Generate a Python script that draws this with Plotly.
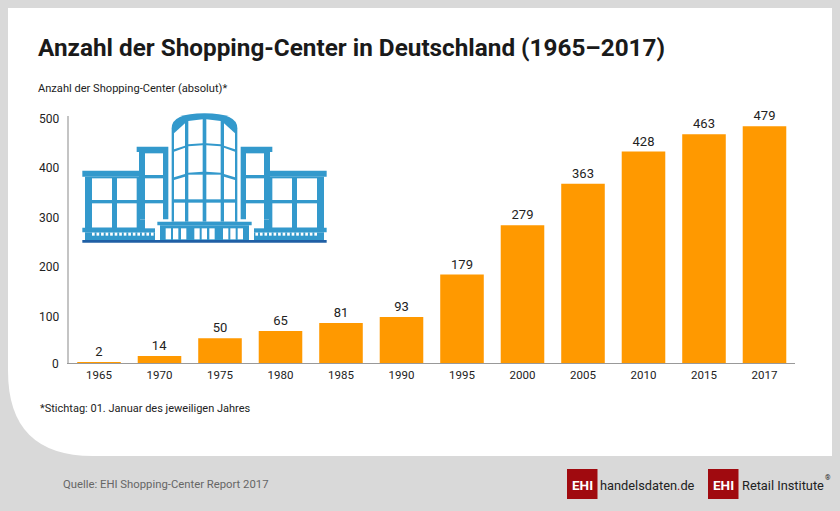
import plotly.graph_objects as go

jahre = ['1965', '1970', '1975', '1980', '1985', '1990', '1995', '2000', '2005', '2010', '2015', '2017']
anzahl = [2, 14, 50, 65, 81, 93, 179, 279, 363, 428, 463, 479]
y_ticks = [0, 100, 200, 300, 400, 500]

W, H = 840, 511
ORANGE = '#ff9900'
BLAU = '#3399cc'
DUNKELBLAU = '#1f5fa5'
ROT = '#a00a0f'
FONT = 'Roboto'


def px(x):
    return x / W


def py(y):
    return 1 - y / H


def text(x, y, s, size, color='#222222', anchor='left', bold=False):
    return dict(xref='paper', yref='paper', x=px(x), y=py(y), text=f'<b>{s}</b>' if bold else s,
                showarrow=False, xanchor=anchor, yanchor='middle',
                font=dict(family=FONT, size=size, color=color), borderpad=0, borderwidth=0)


shapes = []

# weisse Flaeche mit runder Ecke unten links
r = 85
panel = f'M {px(8)} {py(8)} L {px(832)} {py(8)} L {px(832)} {py(456)} L {px(8 + r)} {py(456)} ' \
        f'Q {px(8)} {py(456)} {px(8)} {py(456 - r)} Z'
shapes.append(dict(type='path', xref='paper', yref='paper', path=panel, fillcolor='white',
                   line_width=0, layer='below'))


# Gebaeude: Koordinaten aus dem 3x-Ausschnitt (Ursprung 70/100)
def ix(x):
    return px(70 + x / 3)


def iy(y):
    return py(100 + y / 3)


def rect(x0, y0, x1, y1, color=BLAU, spiegeln=True):
    shapes.append(dict(type='rect', xref='paper', yref='paper', x0=ix(x0), x1=ix(x1), y0=iy(y0), y1=iy(y1),
                       fillcolor=color, line_width=0))
    if spiegeln:
        shapes.append(dict(type='rect', xref='paper', yref='paper', x0=ix(807 - x1), x1=ix(807 - x0),
                           y0=iy(y0), y1=iy(y1), fillcolor=color, line_width=0))


def poly(punkte, color='white', spiegeln=True):
    for m in ([False, True] if spiegeln else [False]):
        pts = [(807 - x if m else x, y) for x, y in punkte]
        p = 'M ' + ' L '.join(f'{ix(x)} {iy(y)}' for x, y in pts) + ' Z'
        shapes.append(dict(type='path', xref='paper', yref='paper', path=p, fillcolor=color, line_width=0))


# Fluegel
rect(37, 212, 210, 230)
rect(45, 230, 210, 385)
for f in [(66, 235, 126, 300), (141, 235, 200, 300), (66, 310, 126, 383), (141, 310, 200, 383)]:
    rect(*f, color='white')
rect(37, 383, 255, 397)
rect(45, 397, 255, 420)
for i in range(14):
    rect(66 + i * 13.6, 398, 74 + i * 13.6, 407, color='white')

# Turm
rect(200, 140, 295, 156)
rect(207, 156, 295, 358)
rect(207, 358, 225, 385)
for f in [(225, 160, 279, 225), (225, 235, 279, 300), (225, 310, 279, 385)]:
    rect(*f, color='white')

# Rundbau
kuppel = f'M {ix(305)} {iy(365)} L {ix(305)} {iy(85)} Q {ix(305)} {iy(40)} {ix(403.5)} {iy(40)} ' \
         f'Q {ix(502)} {iy(40)} {ix(502)} {iy(85)} L {ix(502)} {iy(365)} Z'
shapes.append(dict(type='path', xref='paper', yref='paper', path=kuppel, fillcolor=BLAU, line_width=0))
poly([(312, 100), (345, 70), (345, 137), (312, 148)])
poly([(312, 155), (345, 143), (345, 222), (312, 232)])
poly([(312, 240), (345, 230), (345, 298), (312, 298)])
poly([(312, 308), (345, 308), (345, 365), (312, 365)])
poly([(355, 63), (398, 58), (398, 130), (355, 133)])
poly([(355, 139), (398, 136), (398, 215), (355, 218)])
poly([(355, 224), (398, 224), (398, 298), (355, 298)])
poly([(355, 308), (398, 308), (398, 365), (355, 365)])

# Eingang
rect(262, 365, 545, 376, spiegeln=False)
rect(270, 376, 537, 420, spiegeln=False)
for d in [287, 309, 333, 373, 395, 418, 459, 481, 503]:
    rect(d, 385, d + 16, 418, color='white', spiegeln=False)
rect(37, 420, 770, 428, color=DUNKELBLAU, spiegeln=False)

# Logos
for x0 in [567, 708]:
    shapes.append(dict(type='rect', xref='paper', yref='paper', x0=px(x0), x1=px(x0 + 30.5), y0=py(469), y1=py(499),
                       fillcolor=ROT, line_width=0))

annotations = [
    text(38, 47, 'Anzahl der Shopping-Center in Deutschland (1965–2017)', 24.3, '#1a1a1a', bold=True),
    text(38, 88, 'Anzahl der Shopping-Center (absolut)*', 11.1),
    text(40, 408, '*Stichtag: 01. Januar des jeweiligen Jahres', 11),
    text(63, 484, 'Quelle: EHI Shopping-Center Report 2017', 11.3, '#666666'),
    text(582, 485, 'EHI', 13.5, 'white', 'center', True),
    text(723.5, 485, 'EHI', 13.5, 'white', 'center', True),
    text(600, 485, f'handelsdaten<span style="color:{ROT}">.</span>de', 12.8, '#222222'),
    text(742, 485, 'Retail Institute', 12.8, '#222222'),
    text(825, 478, '®', 7, '#222222'),
]

# y-Beschriftung sitzt im Original etwas unter den Werten
for v in y_ticks:
    annotations.append(dict(xref='paper', yref='y', x=px(61), y=v, text=str(v), showarrow=False, xanchor='right',
                            yanchor='middle', yshift=-1 if v == 0 else -3,
                            font=dict(family=FONT, size=12, color='#222222')))

fig = go.Figure(go.Bar(x=jahre, y=anzahl, marker=dict(color=ORANGE, line_width=0), text=anzahl,
                       textposition='outside', cliponaxis=False,
                       textfont=dict(family=FONT, size=13, color='#222222')))

fig.update_layout(
    width=W, height=H, margin=dict(l=0, r=0, t=0, b=0),
    paper_bgcolor='#d9d9d9', plot_bgcolor='rgba(0,0,0,0)',
    showlegend=False, bargap=0.28,
    shapes=shapes, annotations=annotations,
    xaxis=dict(domain=[px(68.75), px(794.75)], type='category', showgrid=False, ticks='', showline=True,
               linecolor='#999999', linewidth=1.2, ticklabelstandoff=1,
               tickfont=dict(family=FONT, size=11.5, color='#222222')),
    yaxis=dict(domain=[py(363), py(116)], range=[0, 500], showgrid=False, zeroline=False, showline=True,
               linecolor='#c4c4c4', linewidth=1.5, ticks='', showticklabels=False, tickvals=y_ticks),
)

fig.write_html('out.html', config=dict(displayModeBar=False), post_script="document.body.style.margin='0';")
